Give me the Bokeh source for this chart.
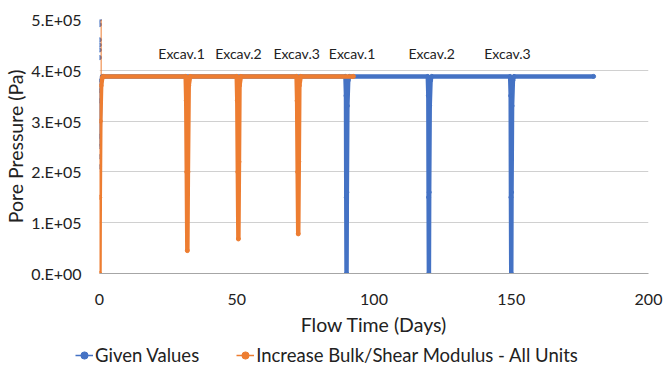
from bokeh.plotting import figure
from bokeh.models import FixedTicker, Legend, LegendItem
from bokeh.layouts import column, row
from bokeh.core.properties import value
from bokeh.embed import file_html
from bokeh.resources import INLINE

# ---- data ----
blue_x = [0.0, 0.3, 0.6, 1.0, 89.6, 89.8, 89.9, 90.0, 90.1, 90.3, 90.6, 91.0,
          119.6, 119.8, 119.9, 120.0, 120.1, 120.3, 120.6, 121.0,
          149.6, 149.8, 149.9, 150.0, 150.1, 150.3, 150.6, 151.0, 180.0]
blue_y = [2.5e5, 3.6e5, 3.8e5, 3.88e5, 3.88e5, 3.5e5, 1.5e5, 0.0, 1.6e5, 3.3e5, 3.8e5, 3.88e5,
          3.88e5, 3.5e5, 1.5e5, 0.0, 1.6e5, 3.3e5, 3.8e5, 3.88e5,
          3.88e5, 3.5e5, 1.5e5, 0.0, 1.6e5, 3.3e5, 3.8e5, 3.88e5, 3.88e5]
blue_init_x = [0.0, 0.0, 0.0, 0.0, 0.0, 0.0, 0.0, 0.0, 0.0, 0.0]
blue_init_y = [5.0e5, 4.9e5, 4.6e5, 4.5e5, 4.4e5, 4.25e5, 3.4e5, 2.7e5, 2.3e5, 2.1e5]

orange_x = [0.0, 0.1, 0.3, 0.6, 1.0, 1.5, 31.4, 31.6, 31.8, 32.0, 32.2, 32.5, 33.0,
            50.0, 50.2, 50.4, 50.6, 50.8, 51.0, 51.5,
            71.8, 72.0, 72.2, 72.4, 72.6, 72.8, 73.3, 92.5]
orange_y = [0.0, 1.5e5, 3.0e5, 3.7e5, 3.85e5, 3.88e5, 3.88e5, 3.4e5, 2.0e5, 0.45e5, 2.0e5, 3.7e5, 3.88e5,
            3.88e5, 3.4e5, 2.0e5, 0.68e5, 2.2e5, 3.7e5, 3.88e5,
            3.88e5, 3.4e5, 2.0e5, 0.78e5, 2.2e5, 3.7e5, 3.88e5, 3.88e5]
orange_spike_x = [0.6, 0.6]
orange_spike_y = [5.0e5, 3.88e5]

label_x = [29.9, 50.6, 71.8, 92.0, 121.0, 148.6]
label_y = [4.33e5, 4.33e5, 4.33e5, 4.33e5, 4.33e5, 4.33e5]
label_text = ["Excav.1", "Excav.2", "Excav.3", "Excav.1", "Excav.2", "Excav.3"]

y_ticks = [0, 1e5, 2e5, 3e5, 4e5, 5e5]
y_tick_labels = ["0.E+00", "1.E+05", "2.E+05", "3.E+05", "4.E+05", "5.E+05"]
x_ticks = [0, 50, 100, 150, 200]

series_names = ["Given Values", "Increase Bulk/Shear Modulus - All Units"]
BLUE = "#4472C4"
ORANGE = "#ED7D31"
FONT = "Lato"

p = figure(width=664, height=338, output_backend="svg", toolbar_location=None,
           x_range=(0, 200), y_range=(0, 5e5),
           min_border_left=99, min_border_right=16, min_border_top=19, min_border_bottom=65)
p.outline_line_color = None

p.line(blue_x, blue_y, line_color=BLUE, line_width=4.5)
p.scatter(blue_x, blue_y, size=4, color=BLUE)
p.scatter(blue_init_x, blue_init_y, size=4, color=BLUE)
p.line(orange_x, orange_y, line_color=ORANGE, line_width=4.5)
p.scatter(orange_x, orange_y, size=4, color=ORANGE)
p.line(orange_spike_x, orange_spike_y, line_color=ORANGE, line_width=1)

p.text(label_x, label_y, text=label_text, text_font=value(FONT), text_font_size="14px",
       text_align="center", text_baseline="middle", text_color="#222222")

# axes
p.xaxis.ticker = FixedTicker(ticks=x_ticks)
p.yaxis.ticker = FixedTicker(ticks=y_ticks)
p.yaxis.major_label_overrides = {t: l for t, l in zip(y_ticks, y_tick_labels)}
for ax in (p.xaxis[0], p.yaxis[0]):
    ax.major_tick_line_color = None
    ax.minor_tick_line_color = None
    ax.major_label_text_font = FONT
    ax.major_label_text_font_size = "16px"
    ax.major_label_text_color = "#222222"
    ax.axis_label_text_font = FONT
    ax.axis_label_text_font_size = "19.5px"
    ax.axis_label_text_font_style = "normal"
    ax.axis_label_text_color = "#222222"
p.yaxis.axis_line_color = None
p.xaxis.axis_line_color = "#a6a6a6"
p.xaxis.major_label_standoff = 14
p.yaxis.major_label_standoff = 12
p.xaxis.axis_label = "Flow Time (Days)"
p.yaxis.axis_label = "Pore Pressure (Pa)"
p.xaxis.axis_label_standoff = 5
p.yaxis.axis_label_standoff = 1
p.xgrid.grid_line_color = None
p.ygrid.grid_line_color = "#d0d0d0"
p.ygrid.grid_line_width = 1

# legend strip below the chart (dummy renderers kept out of view)
lg = figure(width=664, height=32, output_backend="svg", toolbar_location=None,
            x_axis_type=None, y_axis_type=None, x_range=(1000, 1001), y_range=(-2, -1),
            min_border_left=0, min_border_right=0, min_border_top=0, min_border_bottom=0)
lg.outline_line_color = None
lg.xgrid.grid_line_color = None
lg.ygrid.grid_line_color = None
lb1 = lg.line(blue_x, blue_y, line_color=BLUE, line_width=1.5)
lb2 = lg.scatter(blue_x, blue_y, size=4, color=BLUE)
lo1 = lg.line(orange_x, orange_y, line_color=ORANGE, line_width=1.5)
lo2 = lg.scatter(orange_x, orange_y, size=4, color=ORANGE)
legend = Legend(items=[LegendItem(label=series_names[0], renderers=[lb1, lb2]),
                       LegendItem(label=series_names[1], renderers=[lo1, lo2])],
                orientation="horizontal", location=(75, 4),
                label_text_font=FONT, label_text_font_size="18.5px", label_text_color="#222222",
                glyph_width=18, label_standoff=2, spacing=37, padding=0, margin=0,
                background_fill_alpha=0, border_line_color=None)
lg.add_layout(legend, "center")

open("out.html", "w").write(file_html(column(p, row(lg), spacing=0), INLINE))
